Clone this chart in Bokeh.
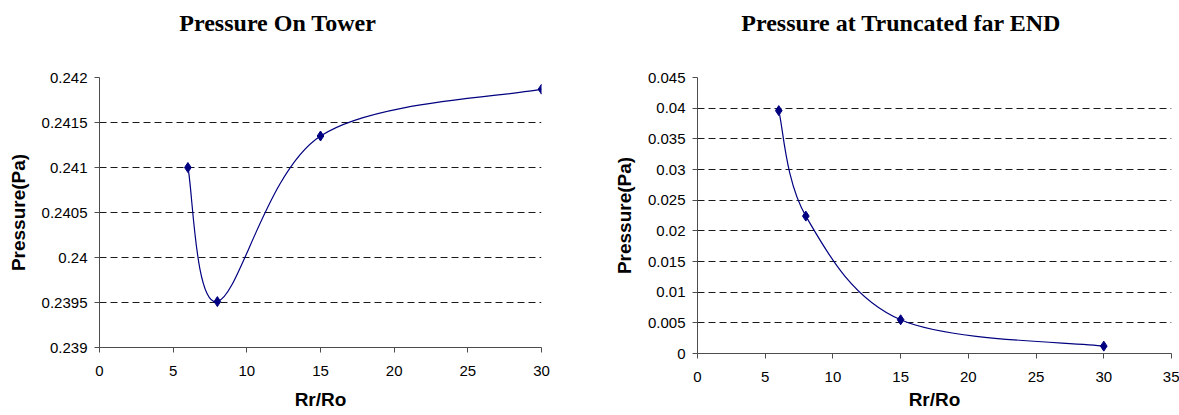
from bokeh.plotting import figure
from bokeh.layouts import row
from bokeh.models import FixedTicker, Range1d, ColumnDataSource, LinearAxis
from bokeh.embed import file_html
from bokeh.resources import INLINE

# ---------------- data ----------------
rr_ro = [6, 8, 15, 30]
p_tower = [0.2410, 0.23951, 0.24135, 0.24187]
p_far_end = [0.0396, 0.0224, 0.0055, 0.0012]

tower_x_ticks = [0, 5, 10, 15, 20, 25, 30]
tower_y_ticks = [0.239, 0.2395, 0.24, 0.2405, 0.241, 0.2415, 0.242]
tower_y_labels = ["0.239", "0.2395", "0.24", "0.2405", "0.241", "0.2415", "0.242"]

far_x_ticks = [0, 5, 10, 15, 20, 25, 30, 35]
far_y_ticks = [0.0, 0.005, 0.01, 0.015, 0.02, 0.025, 0.03, 0.035, 0.04, 0.045]
far_y_labels = ["0", "0.005", "0.01", "0.015", "0.02", "0.025", "0.03", "0.035", "0.04", "0.045"]

NAVY = "#000080"


def smooth_segments(xs, ys):
    """Bezier control points (Catmull-Rom style smoothing, like a spreadsheet 'smoothed line')."""
    n = len(xs)
    seg = dict(x0=[], y0=[], x1=[], y1=[], cx0=[], cy0=[], cx1=[], cy1=[])
    for i in range(n - 1):
        i0 = max(i - 1, 0)
        i3 = min(i + 2, n - 1)
        seg["x0"].append(xs[i]); seg["y0"].append(ys[i])
        seg["x1"].append(xs[i + 1]); seg["y1"].append(ys[i + 1])
        seg["cx0"].append(xs[i] + (xs[i + 1] - xs[i0]) / 6.0)
        seg["cy0"].append(ys[i] + (ys[i + 1] - ys[i0]) / 6.0)
        seg["cx1"].append(xs[i + 1] - (xs[i3] - xs[i]) / 6.0)
        seg["cy1"].append(ys[i + 1] - (ys[i3] - ys[i]) / 6.0)
    return ColumnDataSource(seg)


def make_chart(title, xs, ys, xr, yr, xt, yt, ylabels, width, height,
               bl, br, bt, bb, title_x, xlabel_standoff):
    p = figure(width=width, height=height, x_range=Range1d(*xr), y_range=Range1d(*yr),
               output_backend="svg", toolbar_location=None, title_location=None,
               frame_align=False,
               min_border_left=bl, min_border_right=br, min_border_top=bt, min_border_bottom=bb)
    # chart title: a single bare tick label on an axis above the plot area,
    # so it can be centred over the whole chart rather than the plot area only
    title_axis = LinearAxis(ticker=FixedTicker(ticks=[title_x], minor_ticks=[]),
                            major_label_overrides={float(title_x): title},
                            axis_line_color=None, major_tick_line_color=None,
                            minor_tick_line_color=None, major_tick_in=0, major_tick_out=0,
                            minor_tick_in=0, minor_tick_out=0, major_label_standoff=42,
                            major_label_text_font="Liberation Serif",
                            major_label_text_font_style="bold",
                            major_label_text_font_size="24px",
                            major_label_text_color="black")
    p.add_layout(title_axis, "above")

    p.outline_line_color = None
    p.background_fill_color = "white"
    p.border_fill_color = "white"

    xax = p.below[0]
    yax = p.left[0]
    xax.ticker = FixedTicker(ticks=xt)
    yax.ticker = FixedTicker(ticks=yt)
    yax.major_label_overrides = {float(v): l for v, l in zip(yt, ylabels)}
    p.xgrid.visible = False
    p.ygrid.ticker = FixedTicker(ticks=yt)
    p.ygrid.grid_line_color = "#1a1a1a"
    p.ygrid.grid_line_dash = "7 4"
    p.ygrid.grid_line_width = 1

    for ax in (xax, yax):
        ax.axis_line_color = "#4d4d4d"
        ax.axis_line_width = 1
        ax.major_tick_line_color = "#4d4d4d"
        ax.major_tick_out = 5
        ax.major_tick_in = 0
        ax.minor_tick_out = 0
        ax.minor_tick_in = 0
        ax.major_label_text_font = "Liberation Sans"
        ax.major_label_text_font_size = "15px"
        ax.major_label_text_color = "black"
        ax.axis_label_text_font = "Liberation Sans"
        ax.axis_label_text_font_style = "bold"
        ax.axis_label_text_font_size = "19px"
        ax.axis_label_text_color = "black"
    xax.axis_label = "Rr/Ro"
    yax.axis_label = "Pressure(Pa)"
    xax.major_label_standoff = 13
    yax.major_label_standoff = 7
    xax.axis_label_standoff = xlabel_standoff
    yax.axis_label_standoff = 10

    p.bezier(x0="x0", y0="y0", x1="x1", y1="y1", cx0="cx0", cy0="cy0", cx1="cx1", cy1="cy1",
             source=smooth_segments(xs, ys), line_color=NAVY, line_width=1.2)
    p.scatter(xs, ys, marker="diamond", size=10, fill_color=NAVY, line_color=NAVY)
    return p


p1 = make_chart("Pressure On Tower", rr_ro, p_tower, (0, 30), (0.239, 0.242),
                tower_x_ticks, tower_y_ticks, tower_y_labels,
                width=561, height=415, bl=99, br=20, bt=77, bb=68,
                title_x=12.1, xlabel_standoff=10)
p2 = make_chart("Pressure at Truncated far END", rr_ro, p_far_end, (0, 35), (0.0, 0.045),
                far_x_ticks, far_y_ticks, far_y_labels,
                width=618, height=415, bl=136, br=8, bt=77, bb=62,
                title_x=15.05, xlabel_standoff=4)

layout = row(p1, p2)
open("out.html", "w").write(file_html(layout, INLINE))
